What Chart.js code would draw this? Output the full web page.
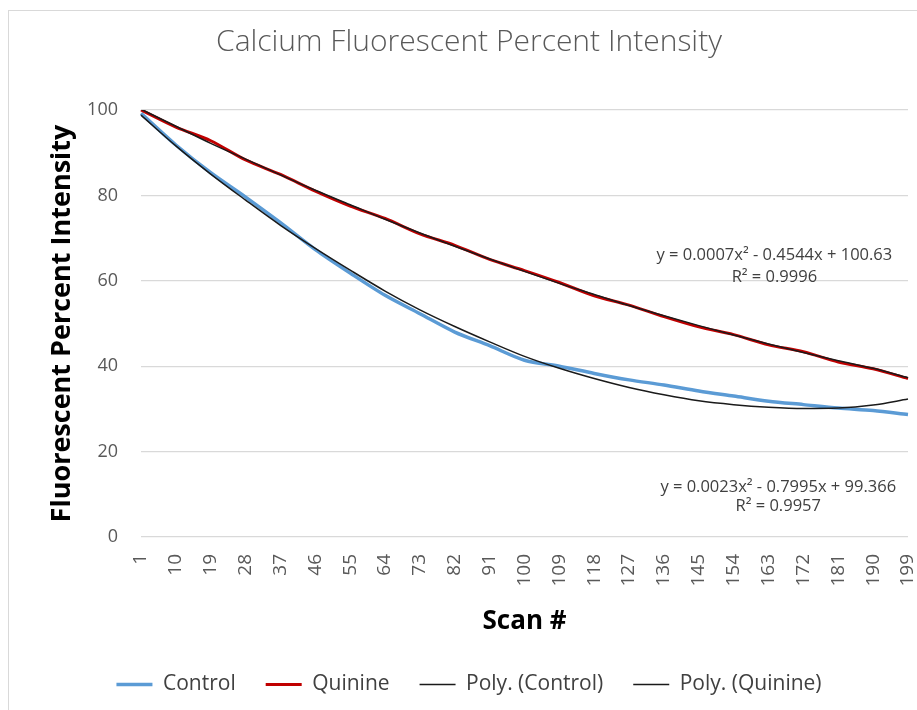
<!DOCTYPE html>
<html>
<head>
<meta charset="utf-8">
<script src="https://cdn.jsdelivr.net/npm/chart.js@4.4.0/dist/chart.umd.min.js"></script>
<style>
  html, body { margin: 0; padding: 0; background: #fff; }
  #wrap { position: relative; width: 917px; height: 710px; }
  #frame { position: absolute; left: 8px; top: 10px; right: 0; bottom: 0;
           border-left: 1px solid #d9d9d9; border-top: 1px solid #d9d9d9; pointer-events: none; }
</style>
</head>
<body>
<div id="wrap">
  <canvas id="chart" width="917" height="710"></canvas>
  <div id="frame"></div>
</div>
<script>
// scan numbers 1..199 on the category axis
const scanLabels = [];
for (let i = 1; i <= 199; i++) scanLabels.push(String(i));

const sampleScans = [1, 10, 19, 28, 37, 46, 55, 64, 73, 82, 91, 100, 109, 118, 127, 136, 145, 154, 163, 172, 181, 190, 199];

const controlValues = [99.2, 91.8, 85.3, 79.6, 73.6, 67.3, 61.8, 56.6, 52.3, 48.0, 44.8, 41.4, 40.0, 38.3, 36.8, 35.6, 34.2, 33.0, 31.8, 31.0, 30.2, 29.6, 28.7];
const quinineValues = [100.0, 96.0, 92.8, 88.3, 84.9, 81.0, 77.5, 74.6, 71.0, 68.3, 65.0, 62.4, 59.6, 56.5, 54.3, 51.6, 49.2, 47.4, 45.0, 43.4, 41.0, 39.4, 37.1];
const polyControlValues = [98.8, 91.6, 85.0, 78.9, 73.0, 67.6, 62.5, 57.6, 53.2, 49.3, 45.7, 42.3, 39.5, 37.1, 35.0, 33.3, 31.9, 31.0, 30.4, 30.1, 30.2, 30.9, 32.3];
const polyQuinineValues = [100.2, 96.2, 92.2, 88.5, 84.8, 81.2, 77.8, 74.4, 71.2, 68.1, 65.1, 62.2, 59.4, 56.8, 54.2, 51.8, 49.5, 47.3, 45.2, 43.2, 41.3, 39.5, 37.3];

const yTicks = [0, 20, 40, 60, 80, 100];

// trendline equation labels, placed in data units
const equationNotes = [
  { text: 'y = 0.0007x² - 0.4544x + 100.63', scan: 164.5, value: 66.0 },
  { text: 'R² = 0.9996', scan: 164.5, value: 60.8 },
  { text: 'y = 0.0023x² - 0.7995x + 99.366', scan: 165.5, value: 11.6 },
  { text: 'R² = 0.9957', scan: 165.5, value: 7.3 }
];

function toPoints(values) {
  return sampleScans.map((s, i) => ({ x: String(s), y: values[i] }));
}

const equationPlugin = {
  id: 'equations',
  afterDatasetsDraw(chart) {
    const ctx = chart.ctx;
    const xs = chart.scales.x, ys = chart.scales.y;
    ctx.save();
    ctx.font = '16.5px "Open Sans"';
    ctx.fillStyle = '#404040';
    ctx.textAlign = 'center';
    ctx.textBaseline = 'middle';
    equationNotes.forEach(n => {
      ctx.fillText(n.text, xs.getPixelForValue(n.scan - 1), ys.getPixelForValue(n.value));
    });
    ctx.restore();
  }
};

const padLeft = 30;

new Chart(document.getElementById('chart'), {
  type: 'line',
  data: {
    labels: scanLabels,
    datasets: [
      { label: 'Control', data: toPoints(controlValues), borderColor: '#5b9bd5', backgroundColor: '#5b9bd5',
        borderWidth: 3.5, pointRadius: 0, tension: 0.3, order: 2 },
      { label: 'Quinine', data: toPoints(quinineValues), borderColor: '#c00000', backgroundColor: '#c00000',
        borderWidth: 3, pointRadius: 0, tension: 0.3, order: 1 },
      { label: 'Poly. (Control)', data: toPoints(polyControlValues), borderColor: '#1a1a1a', backgroundColor: '#1a1a1a',
        borderWidth: 1.5, pointRadius: 0, cubicInterpolationMode: 'monotone', order: 0 },
      { label: 'Poly. (Quinine)', data: toPoints(polyQuinineValues), borderColor: '#1a1a1a', backgroundColor: '#1a1a1a',
        borderWidth: 1.5, pointRadius: 0, cubicInterpolationMode: 'monotone', order: 0 }
    ]
  },
  options: {
    responsive: false,
    animation: false,
    layout: { padding: { left: padLeft, right: 9, top: 10, bottom: 5 } },
    plugins: {
      title: {
        display: true,
        text: 'Calcium Fluorescent Percent Intensity',
        color: '#595959',
        font: { family: 'Open Sans', size: 30, weight: '300' },
        padding: { top: 14, bottom: 50 }
      },
      legend: {
        position: 'bottom',
        labels: {
          color: '#404040',
          font: { family: 'Open Sans', size: 21 },
          usePointStyle: true,
          pointStyle: 'line',
          pointStyleWidth: 36,
          padding: 30,
          sort: (a, b) => a.datasetIndex - b.datasetIndex
        }
      },
      tooltip: { enabled: false }
    },
    scales: {
      x: {
        grid: { display: false, drawTicks: false },
        border: { display: false },
        ticks: {
          autoSkip: false,
          minRotation: 90,
          maxRotation: 90,
          padding: 17,
          color: '#595959',
          font: { family: 'Open Sans', size: 19 },
          callback: function (val, idx) { return idx % 9 === 0 ? this.getLabelForValue(val) : ''; }
        },
        title: {
          display: true,
          text: 'Scan #',
          color: '#000',
          font: { family: 'Open Sans', size: 26, weight: 'bold' },
          padding: { top: 0, bottom: 7 }
        },
        afterFit: s => { s.height = 107; s.paddingLeft = 0; s.paddingRight = 0; }
      },
      y: {
        min: 0,
        max: 100,
        afterBuildTicks: s => { s.ticks = yTicks.map(v => ({ value: v })); },
        grid: { color: '#d9d9d9', lineWidth: 1.3, drawTicks: false },
        border: { display: false },
        ticks: {
          padding: 23,
          color: '#595959',
          font: { family: 'Open Sans', size: 18 }
        },
        title: {
          display: true,
          text: 'Fluorescent Percent Intensity',
          color: '#000',
          font: { family: 'Open Sans', size: 27, weight: 'bold' },
          padding: { top: 16, bottom: 0 }
        },
        afterFit: s => { s.width = 141 - padLeft; }
      }
    }
  },
  plugins: [equationPlugin]
});
</script>
</body>
</html>
